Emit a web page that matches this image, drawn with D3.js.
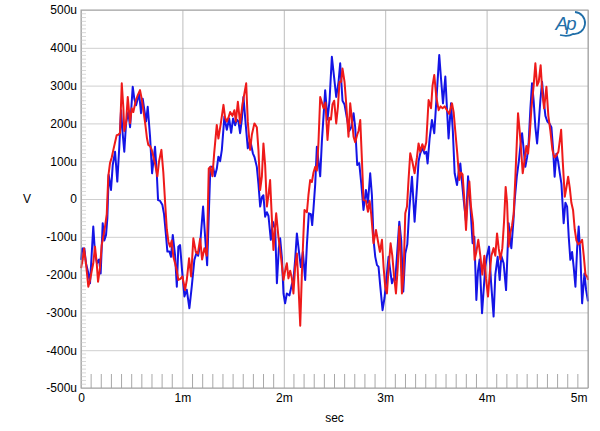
<!DOCTYPE html>
<html>
<head>
<meta charset="utf-8">
<script src="https://d3js.org/d3.v7.min.js"></script>
<style>
  body { margin: 0; background: #fff; }
  svg text { font-family: "Liberation Sans", Arial, sans-serif; }
</style>
</head>
<body>
<svg id="chart"></svg>
<script>
// tick values (ms on x, microvolts on y)
const xTicks = [0, 1, 2, 3, 4, 5];
const yTicks = [-500, -400, -300, -200, -100, 0, 100, 200, 300, 400, 500];

// [time in ms, level in uV]
const blueSeries = [
  [0.000,-161],[0.013,-131],[0.033,-131],[0.049,-170],[0.072,-196],[0.089,-223],[0.121,-73],[0.138,-143],
  [0.158,-170],[0.178,-160],[0.194,-197],[0.214,-64],[0.230,-110],[0.247,-95],[0.260,-50],[0.273,64],
  [0.296,24],[0.313,90],[0.336,125],[0.358,46],[0.378,140],[0.395,235],[0.412,170],[0.427,125],
  [0.444,200],[0.467,230],[0.484,190],[0.510,297],[0.526,265],[0.543,248],[0.560,265],[0.575,275],
  [0.592,227],[0.609,265],[0.625,235],[0.642,205],[0.658,244],[0.681,165],[0.701,68],[0.718,110],
  [0.730,138],[0.747,70],[0.760,-3],[0.780,-5],[0.802,-15],[0.819,-40],[0.836,-90],[0.852,-139],
  [0.872,-139],[0.888,-153],[0.905,-95],[0.928,-150],[0.945,-232],[0.960,-126],[0.977,-122],[0.997,-190],
  [1.020,-258],[1.043,-240],[1.069,-289],[1.093,-230],[1.118,-161],[1.142,-140],[1.155,-150],[1.175,-120],
  [1.204,-20],[1.224,-100],[1.244,-175],[1.263,-20],[1.276,85],[1.303,85],[1.320,60],[1.339,80],
  [1.355,112],[1.372,100],[1.389,130],[1.414,218],[1.438,183],[1.461,213],[1.481,175],[1.500,213],
  [1.520,195],[1.537,210],[1.553,205],[1.569,174],[1.586,210],[1.602,270],[1.626,192],[1.645,134],
  [1.668,156],[1.695,121],[1.712,110],[1.734,85],[1.750,40],[1.767,-20],[1.784,5],[1.799,10],
  [1.816,-47],[1.833,-35],[1.849,-45],[1.872,-108],[1.892,-60],[1.915,-80],[1.932,-223],[1.951,-130],
  [1.964,-104],[1.981,-155],[1.997,-250],[2.013,-276],[2.030,-250],[2.056,-255],[2.080,-225],[2.095,-215],
  [2.112,-160],[2.129,-91],[2.152,-145],[2.168,-180],[2.188,-140],[2.211,-214],[2.228,-120],[2.247,-38],
  [2.267,-40],[2.280,-69],[2.293,-25],[2.310,40],[2.326,138],[2.342,100],[2.359,60],[2.376,155],
  [2.392,220],[2.408,288],[2.431,210],[2.451,260],[2.474,376],[2.497,320],[2.517,270],[2.540,310],
  [2.556,359],[2.579,260],[2.599,250],[2.622,215],[2.645,180],[2.665,190],[2.688,227],[2.704,190],
  [2.724,90],[2.744,95],[2.764,41],[2.786,-29],[2.810,24],[2.830,-10],[2.852,68],[2.869,10],
  [2.885,-108],[2.902,-153],[2.919,-175],[2.934,-179],[2.951,-230],[2.974,-294],[2.994,-260],[3.017,-197],
  [3.033,-153],[3.050,-190],[3.067,-223],[3.083,-210],[3.099,-215],[3.119,-140],[3.139,-60],[3.158,-110],
  [3.178,-245],[3.198,-144],[3.218,-120],[3.237,-30],[3.264,59],[3.290,-60],[3.313,30],[3.329,100],
  [3.346,121],[3.369,135],[3.388,120],[3.405,125],[3.418,94],[3.438,160],[3.461,209],[3.484,174],
  [3.511,288],[3.533,381],[3.550,320],[3.570,253],[3.593,324],[3.609,240],[3.625,160],[3.649,253],
  [3.667,180],[3.685,68],[3.708,37],[3.724,70],[3.741,94],[3.757,45],[3.773,0],[3.797,-60],
  [3.817,60],[3.833,10],[3.846,-45],[3.862,-117],[3.879,-100],[3.899,-267],[3.915,-190],[3.931,-160],
  [3.955,-302],[3.971,-240],[3.987,-180],[4.004,-150],[4.024,-126],[4.044,-220],[4.069,-311],[4.086,-200],
  [4.109,-153],[4.129,-214],[4.145,-150],[4.168,-170],[4.192,-241],[4.205,-150],[4.217,-64],[4.234,-110],
  [4.244,-130],[4.264,-60],[4.277,-3],[4.298,60],[4.318,100],[4.333,140],[4.350,174],[4.366,130],
  [4.382,85],[4.399,110],[4.415,150],[4.432,240],[4.448,306],[4.464,260],[4.481,190],[4.498,147],
  [4.514,200],[4.530,260],[4.547,310],[4.563,260],[4.580,220],[4.599,205],[4.619,200],[4.639,190],
  [4.656,130],[4.671,59],[4.688,120],[4.705,100],[4.721,70],[4.738,40],[4.760,-64],[4.777,-10],
  [4.794,-20],[4.810,-100],[4.826,-161],[4.843,-140],[4.859,-180],[4.876,-232],[4.893,-130],[4.908,-73],
  [4.925,-150],[4.942,-276],[4.955,-230],[4.965,-197],[4.981,-240],[5.000,-271]
];

const redSeries = [
  [0.000,-183],[0.017,-160],[0.030,-131],[0.049,-170],[0.072,-232],[0.089,-215],[0.106,-190],[0.121,-170],
  [0.138,-126],[0.155,-170],[0.168,-219],[0.188,-180],[0.204,-122],[0.220,-100],[0.237,-73],[0.254,-40],
  [0.269,59],[0.286,95],[0.303,110],[0.319,130],[0.336,150],[0.352,169],[0.368,170],[0.385,175],
  [0.402,306],[0.418,240],[0.427,180],[0.444,200],[0.461,270],[0.484,201],[0.500,240],[0.516,230],
  [0.540,260],[0.560,275],[0.582,288],[0.599,265],[0.615,235],[0.635,196],[0.651,160],[0.664,143],
  [0.681,140],[0.698,130],[0.714,112],[0.733,90],[0.753,60],[0.770,100],[0.793,130],[0.812,70],
  [0.832,-20],[0.846,-80],[0.862,-113],[0.878,-126],[0.895,-110],[0.911,-153],[0.928,-170],[0.945,-190],
  [0.960,-214],[0.977,-212],[1.000,-205],[1.026,-241],[1.043,-215],[1.066,-157],[1.086,-205],[1.108,-104],
  [1.132,-140],[1.152,-145],[1.175,-105],[1.194,-160],[1.217,-130],[1.241,-150],[1.260,81],[1.276,85],
  [1.296,60],[1.313,120],[1.339,196],[1.355,160],[1.379,200],[1.405,249],[1.421,215],[1.438,205],
  [1.454,215],[1.471,230],[1.493,220],[1.513,235],[1.527,205],[1.547,257],[1.569,200],[1.592,250],
  [1.629,306],[1.645,204],[1.668,130],[1.685,170],[1.710,200],[1.734,190],[1.750,130],[1.767,24],
  [1.784,60],[1.799,147],[1.816,90],[1.833,-20],[1.849,10],[1.865,50],[1.882,-50],[1.898,-135],
  [1.915,-70],[1.925,-38],[1.947,-100],[1.971,-150],[1.997,-214],[2.013,-190],[2.030,-170],[2.046,-210],
  [2.063,-190],[2.080,-210],[2.095,-250],[2.112,-180],[2.129,-144],[2.145,-230],[2.162,-335],[2.178,-200],
  [2.194,-91],[2.204,-29],[2.228,-35],[2.243,10],[2.260,50],[2.277,45],[2.293,70],[2.310,85],
  [2.326,75],[2.342,150],[2.359,270],[2.376,255],[2.392,240],[2.411,255],[2.431,156],[2.448,215],
  [2.465,210],[2.480,250],[2.497,260],[2.517,200],[2.534,244],[2.549,310],[2.566,310],[2.579,345],
  [2.599,310],[2.616,250],[2.638,165],[2.655,253],[2.672,210],[2.688,165],[2.704,150],[2.724,170],
  [2.737,180],[2.754,209],[2.771,100],[2.786,-3],[2.810,-5],[2.830,-34],[2.846,-5],[2.862,-40],
  [2.885,-117],[2.909,-82],[2.931,-115],[2.948,-140],[2.968,-108],[2.984,-180],[3.000,-232],[3.017,-250],
  [3.033,-185],[3.053,-117],[3.070,-150],[3.086,-200],[3.106,-250],[3.124,-180],[3.139,-73],[3.151,-140],
  [3.165,-250],[3.181,-200],[3.198,-38],[3.215,-20],[3.230,50],[3.247,121],[3.267,100],[3.290,68],
  [3.313,110],[3.329,147],[3.346,125],[3.366,145],[3.385,130],[3.405,150],[3.428,262],[3.452,240],
  [3.467,300],[3.484,328],[3.504,270],[3.527,235],[3.546,245],[3.566,240],[3.586,245],[3.609,235],
  [3.632,225],[3.659,253],[3.675,230],[3.691,180],[3.711,120],[3.731,50],[3.748,70],[3.763,65],
  [3.780,0],[3.797,-82],[3.813,0],[3.830,46],[3.846,-20],[3.866,-64],[3.882,-161],[3.899,-140],
  [3.918,-108],[3.938,-150],[3.958,-200],[3.978,-150],[3.994,-210],[4.014,-258],[4.030,-200],[4.047,-150],
  [4.069,-130],[4.086,-150],[4.103,-91],[4.119,-130],[4.136,-160],[4.155,-130],[4.172,-60],[4.188,32],
  [4.202,-10],[4.217,-126],[4.234,-90],[4.251,-70],[4.267,-40],[4.284,60],[4.310,227],[4.326,180],
  [4.343,120],[4.356,68],[4.373,100],[4.392,140],[4.409,120],[4.425,170],[4.442,240],[4.464,300],
  [4.481,359],[4.498,300],[4.514,310],[4.533,354],[4.550,280],[4.567,240],[4.590,297],[4.609,220],
  [4.629,180],[4.649,130],[4.668,110],[4.688,115],[4.708,125],[4.735,183],[4.751,100],[4.771,6],
  [4.787,30],[4.804,59],[4.820,30],[4.836,-10],[4.853,-30],[4.869,-80],[4.886,-110],[4.905,-120],
  [4.925,-115],[4.942,-108],[4.958,-150],[4.975,-200],[4.991,-205],[5.000,-214]
];

class ScopePlot {

  constructor(_config) {
    this.config = {
      parentElement: _config.parentElement,
      containerWidth: 600,
      containerHeight: 431,
      margin: { top: 10, bottom: 43, right: 12, left: 81 }
    };
    this.initVis();
  }

  initVis() {
    let vis = this;

    vis.width = vis.config.containerWidth - vis.config.margin.left - vis.config.margin.right;
    vis.height = vis.config.containerHeight - vis.config.margin.top - vis.config.margin.bottom;

    vis.svg = d3.select(vis.config.parentElement)
      .attr('width', vis.config.containerWidth)
      .attr('height', vis.config.containerHeight);

    vis.chart = vis.svg.append('g')
      .attr('transform', `translate(${vis.config.margin.left},${vis.config.margin.top})`);

    vis.xScale = d3.scaleLinear().domain([0, 5]).range([0, vis.width]);
    vis.yScale = d3.scaleLinear().domain([-500, 500]).range([vis.height, 0]);

    vis.renderVis();
  }

  renderVis() {
    let vis = this;

    // grid
    vis.chart.append('g')
      .call(d3.axisLeft(vis.yScale).tickValues(yTicks).tickSize(-vis.width).tickFormat(''))
      .call(g => g.select('.domain').remove())
      .selectAll('line').attr('stroke', '#cfcfcf');

    vis.chart.append('g')
      .attr('transform', `translate(0,${vis.height})`)
      .call(d3.axisBottom(vis.xScale).tickValues(xTicks).tickSize(-vis.height).tickFormat(''))
      .call(g => g.select('.domain').remove())
      .selectAll('line').attr('stroke', '#bdbdbd');

    // small ticks along the left edge, every 10u
    vis.chart.append('g')
      .selectAll('line')
      .data(d3.range(-490, 500, 10).filter(d => d % 100 !== 0))
      .join('line')
        .attr('x1', 0).attr('x2', 5)
        .attr('y1', d => vis.yScale(d)).attr('y2', d => vis.yScale(d))
        .attr('stroke', '#d8d8d8');

    // minor ticks along the bottom, every 0.1 ms
    vis.chart.append('g')
      .selectAll('line')
      .data(d3.range(1, 50).filter(d => d % 10 !== 0).map(d => d / 10))
      .join('line')
        .attr('x1', d => vis.xScale(d)).attr('x2', d => vis.xScale(d))
        .attr('y1', vis.height - 14).attr('y2', vis.height)
        .attr('stroke', '#a8a8a8');

    // traces
    const line = d3.line()
      .x(d => vis.xScale(d[0]))
      .y(d => vis.yScale(d[1]));

    vis.chart.append('path')
      .datum(blueSeries)
      .attr('fill', 'none')
      .attr('stroke', '#1414e6')
      .attr('stroke-width', 2)
      .attr('stroke-linejoin', 'round')
      .attr('d', line);

    vis.chart.append('path')
      .datum(redSeries)
      .attr('fill', 'none')
      .attr('stroke', '#ee1a1a')
      .attr('stroke-width', 2)
      .attr('stroke-linejoin', 'round')
      .attr('d', line);

    // frame
    vis.chart.append('rect')
      .attr('width', vis.width).attr('height', vis.height)
      .attr('fill', 'none').attr('stroke', '#a0a0a0');

    // axes labels
    const yAxisG = vis.chart.append('g')
      .call(d3.axisLeft(vis.yScale).tickValues(yTicks).tickSize(0).tickPadding(4)
        .tickFormat(d => d === 0 ? '0' : d + 'u'));
    yAxisG.select('.domain').remove();
    yAxisG.selectAll('text').attr('font-size', 12).attr('fill', '#000')
      .style('font-family', '"Liberation Sans", Arial, sans-serif');

    const xAxisG = vis.chart.append('g')
      .attr('transform', `translate(0,${vis.height})`)
      .call(d3.axisBottom(vis.xScale).tickValues(xTicks).tickSize(0).tickPadding(5)
        .tickFormat(d => d === 0 ? '0' : d + 'm'));
    xAxisG.select('.domain').remove();
    xAxisG.selectAll('text').attr('font-size', 12).attr('fill', '#000')
      .style('font-family', '"Liberation Sans", Arial, sans-serif');
    xAxisG.selectAll('text').filter(d => d === 5).attr('text-anchor', 'end').attr('dx', -1);

    vis.svg.append('text')
      .attr('x', 27).attr('y', vis.config.margin.top + vis.yScale(0))
      .attr('dy', '0.35em').attr('text-anchor', 'middle')
      .attr('font-size', 12).text('V');

    vis.svg.append('text')
      .attr('x', vis.config.margin.left + vis.width / 2).attr('y', 422)
      .attr('text-anchor', 'middle')
      .attr('font-size', 12).text('sec');

    // Ap badge, top right
    const logo = vis.svg.append('g').attr('transform', 'translate(566,23)');
    logo.append('text')
      .attr('x', -1).attr('text-anchor', 'middle').attr('dy', '0.35em')
      .attr('font-size', 19).attr('font-style', 'italic')
      .attr('fill', '#1f6ea8').attr('letter-spacing', -2)
      .text('Ap');
    logo.append('path')
      .attr('d', 'M 9 -11 A 11 11 0 0 1 7 11 Q 2 14 -6 12')
      .attr('fill', 'none').attr('stroke', '#1f6ea8').attr('stroke-width', 1.8);
  }
}

new ScopePlot({ parentElement: '#chart' });
</script>
</body>
</html>
